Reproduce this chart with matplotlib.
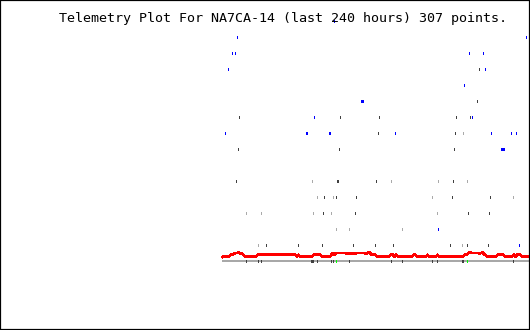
import matplotlib
matplotlib.use("Agg")
import matplotlib.pyplot as plt

title = "Telemetry Plot For NA7CA-14 (last 240 hours) 307 points."

# point index (0..306) and row level of each marker
blue_x = [14, 303, 9, 12, 246, 260, 5, 262, 241, 138, 139, 140, 91, 249,
          2, 83, 84, 106, 107, 172, 268, 288, 293, 278, 279, 280, 281,
          215, 296, 111]
blue_v = [14, 14, 13, 13, 13, 13, 12, 12, 11, 10, 10, 10, 9, 9,
          8, 8, 8, 8, 8, 8, 8, 8, 8, 7, 7, 7, 7,
          2, 1, 15]

dark_x = [256, 254, 16, 117, 156, 233, 247, 155, 232, 15, 116, 231,
          13, 114, 115, 153, 230, 101, 113, 133, 229, 267, 100, 132, 245, 266,
          43, 75, 99, 130, 152, 170, 227, 244, 265]
dark_v = [12, 10, 9, 9, 9, 9, 9, 8, 8, 7, 7, 7,
          5, 5, 5, 5, 5, 4, 4, 4, 4, 4, 3, 3, 3, 3,
          1, 1, 1, 1, 1, 1, 1, 1, 1]

light_x = [240, 89, 168, 215, 244, 94, 110, 209, 290, 23, 38, 90, 108, 214,
           113, 126, 179, 35, 239]
light_v = [8, 5, 5, 5, 5, 4, 4, 4, 4, 3, 3, 3, 3, 3,
           2, 2, 2, 1, 1]

# marks on the base line
tick_x = [23, 35, 38, 88, 89, 90, 94, 108, 110, 126, 168, 179, 209, 214, 239, 240, 290]
green_x = [113, 244]

# red trace vertices
red_x = [0, 1, 7, 8, 10, 11, 13, 15, 16, 18, 20, 21, 22, 34, 35, 73, 74, 75, 76, 77,
         82, 83, 84, 90, 91, 98, 99, 105, 106, 108, 109, 110, 111, 112, 113, 123, 124,
         127, 128, 133, 134, 142, 143, 145, 147, 148, 149, 153, 154, 167, 168, 171, 172,
         173, 174, 175, 190, 191, 193, 194, 204, 205, 206, 214, 215, 216, 241, 242, 244,
         245, 246, 247, 248, 249, 256, 257, 258, 259, 260, 261, 263, 264, 267, 268, 269,
         274, 275, 281, 282, 287, 288, 289, 290, 291, 292, 293, 294, 298, 299, 306]
red_v = [0.25, 0.31, 0.31, 0.38, 0.38, 0.44, 0.5, 0.5, 0.56, 0.44, 0.44, 0.38, 0.31, 0.31,
         0.38, 0.38, 0.31, 0.31, 0.38, 0.31, 0.31, 0.25, 0.31, 0.31, 0.38, 0.38, 0.31,
         0.31, 0.25, 0.31, 0.38, 0.5, 0.5, 0.38, 0.5, 0.5, 0.44, 0.5, 0.44, 0.44, 0.5,
         0.5, 0.44, 0.5, 0.56, 0.44, 0.38, 0.38, 0.31, 0.31, 0.38, 0.38, 0.25, 0.38, 0.38,
         0.31, 0.31, 0.38, 0.38, 0.31, 0.31, 0.38, 0.31, 0.31, 0.38, 0.31, 0.31, 0.38,
         0.38, 0.44, 0.5, 0.56, 0.56, 0.5, 0.5, 0.44, 0.5, 0.5, 0.56, 0.44, 0.38, 0.31,
         0.31, 0.25, 0.31, 0.31, 0.38, 0.38, 0.31, 0.31, 0.25, 0.31, 0.31, 0.38, 0.38,
         0.25, 0.38, 0.38, 0.31, 0.31]

n_points = 307


def marks(ax, xs, vs, color):
    lo = [v - 0.0625 for v in vs]
    hi = [v + 0.0625 for v in vs]
    ax.vlines(xs, lo, hi, colors=color, linewidth=0.72, antialiased=False, zorder=3)


def main():
    fig = plt.figure(figsize=(5.3, 3.3), dpi=100)
    ax = fig.add_axes([0, 0, 1, 1])
    ax.set_xlim(-222.5, 307.5)
    ax.set_ylim(-69 / 16, 261 / 16)
    ax.set_xticks([])
    ax.set_yticks([])
    for s in ax.spines.values():
        s.set_color("black")
        s.set_linewidth(1.6)

    # base line
    ax.hlines(0, -0.5, n_points + 0.5, colors="#a8a8a8", linewidth=1.44,
              antialiased=False, zorder=1)
    marks(ax, tick_x, [0] * len(tick_x), "#404040")
    marks(ax, green_x, [0] * len(green_x), "#00ff00")

    marks(ax, light_x, light_v, "#aaaaaa")
    marks(ax, dark_x, dark_v, "#404040")
    marks(ax, blue_x, blue_v, "#0000ff")

    ax.plot(red_x, red_v, color="#ff0000", linewidth=1.44, antialiased=False, zorder=2)

    fig.text(59 / 530, 1 - 22 / 330, title, family="DejaVu Sans Mono",
             fontsize=9.6, va="baseline", ha="left", color="black")

    fig.savefig("out.png", dpi=100)


if __name__ == '__main__':
    main()
